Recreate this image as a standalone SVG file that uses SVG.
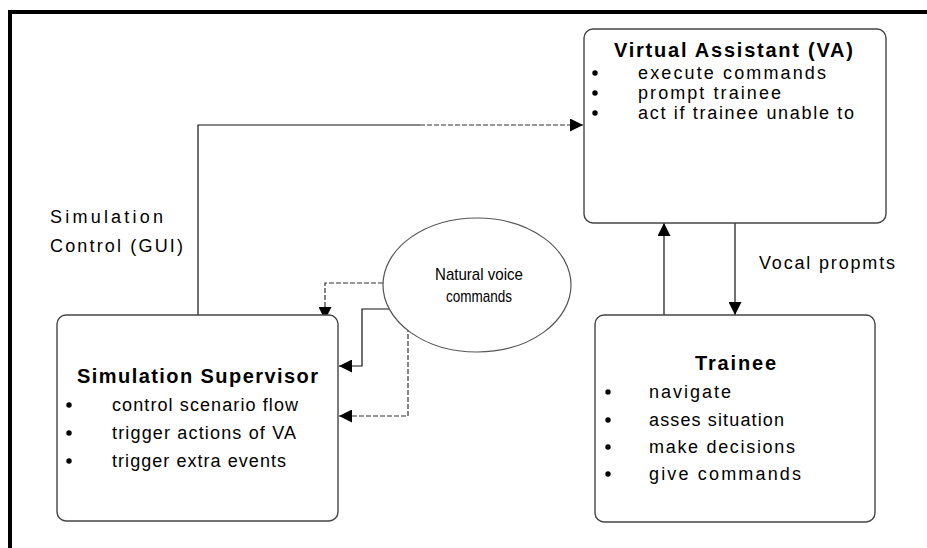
<svg xmlns="http://www.w3.org/2000/svg" width="927" height="548" viewBox="0 0 927 548">
<style>
.box{fill:#fff;stroke:#444;stroke-width:1.4}
.t{font-family:"Liberation Sans",Arial,sans-serif;fill:#000}
.h{font-size:20px;font-weight:bold}
.b{font-size:18px}
.s{font-size:17px}
.dot{fill:#000}
.ln{fill:none;stroke:#111;stroke-width:1.2}
.dl{fill:none;stroke:#333;stroke-width:1.2;stroke-dasharray:5 2}
</style>
<defs>
<marker id="ah" viewBox="0 0 10 10" refX="10" refY="5" markerWidth="13" markerHeight="13" markerUnits="userSpaceOnUse" orient="auto">
<path d="M0,0 L10,5 L0,10 Z" fill="#000"/>
</marker>
</defs>
<rect width="927" height="548" fill="#fff"/>
<path d="M10,548 V12 H927" fill="none" stroke="#000" stroke-width="4"/>
<g id="connectors">
<path class="ln" d="M198,315 V125 H420"/>
<path class="dl" d="M420,125 H583" marker-end="url(#ah)"/>
<path class="ln" d="M664,315 V223" marker-end="url(#ah)"/>
<path class="ln" d="M735,223 V315" marker-end="url(#ah)"/>
<path class="dl" d="M383,283 H325 V320" marker-end="url(#ah)"/>
<path class="ln" d="M393,309 H362 V366 H339" marker-end="url(#ah)"/>
<path class="dl" d="M408,327 V416 H339" marker-end="url(#ah)"/>
<text class="t b" x="759" y="269" textLength="136" lengthAdjust="spacing">Vocal propmts</text>
<text class="t b" x="50" y="223" textLength="113" lengthAdjust="spacing">Simulation</text>
<text class="t b" x="50" y="252" textLength="133" lengthAdjust="spacing">Control (GUI)</text>
</g>
<g id="va">
<rect class="box" x="584" y="29" width="302" height="194" rx="9"/>
<text class="t h" x="614" y="57" textLength="239" lengthAdjust="spacing">Virtual Assistant (VA)</text>
<circle class="dot" cx="595" cy="73" r="2.7"/>
<text class="t b" x="638" y="79" textLength="188" lengthAdjust="spacing">execute commands</text>
<circle class="dot" cx="595" cy="93" r="2.7"/>
<text class="t b" x="638" y="99" textLength="143" lengthAdjust="spacing">prompt trainee</text>
<circle class="dot" cx="595" cy="113" r="2.7"/>
<text class="t b" x="638" y="119" textLength="216" lengthAdjust="spacing">act if trainee unable to</text>
</g>
<g id="voice">
<ellipse cx="477" cy="285" rx="94" ry="67" fill="#fff" stroke="#555" stroke-width="1.2"/>
<text class="t s" x="435" y="280" textLength="88" lengthAdjust="spacingAndGlyphs">Natural voice</text>
<text class="t s" x="446" y="302" textLength="66" lengthAdjust="spacingAndGlyphs">commands</text>
</g>
<g id="supervisor">
<rect class="box" x="57" y="315" width="281" height="206" rx="9"/>
<text class="t h" x="77" y="383" textLength="241" lengthAdjust="spacing">Simulation Supervisor</text>
<circle class="dot" cx="69" cy="405" r="2.7"/>
<text class="t b" x="112" y="411" textLength="186" lengthAdjust="spacing">control scenario flow</text>
<circle class="dot" cx="69" cy="433" r="2.7"/>
<text class="t b" x="112" y="439" textLength="184" lengthAdjust="spacing">trigger actions of VA</text>
<circle class="dot" cx="69" cy="461" r="2.7"/>
<text class="t b" x="112" y="467" textLength="174" lengthAdjust="spacing">trigger extra events</text>
</g>
<g id="trainee">
<rect class="box" x="595" y="315" width="280" height="207" rx="9"/>
<text class="t h" x="695" y="370" textLength="81" lengthAdjust="spacing">Trainee</text>
<circle class="dot" cx="608" cy="392" r="2.7"/>
<text class="t b" x="649" y="398" textLength="82" lengthAdjust="spacing">navigate</text>
<circle class="dot" cx="608" cy="420" r="2.7"/>
<text class="t b" x="649" y="426" textLength="135" lengthAdjust="spacing">asses situation</text>
<circle class="dot" cx="608" cy="447" r="2.7"/>
<text class="t b" x="649" y="453" textLength="146" lengthAdjust="spacing">make decisions</text>
<circle class="dot" cx="608" cy="474" r="2.7"/>
<text class="t b" x="649" y="480" textLength="152" lengthAdjust="spacing">give commands</text>
</g>
</svg>
